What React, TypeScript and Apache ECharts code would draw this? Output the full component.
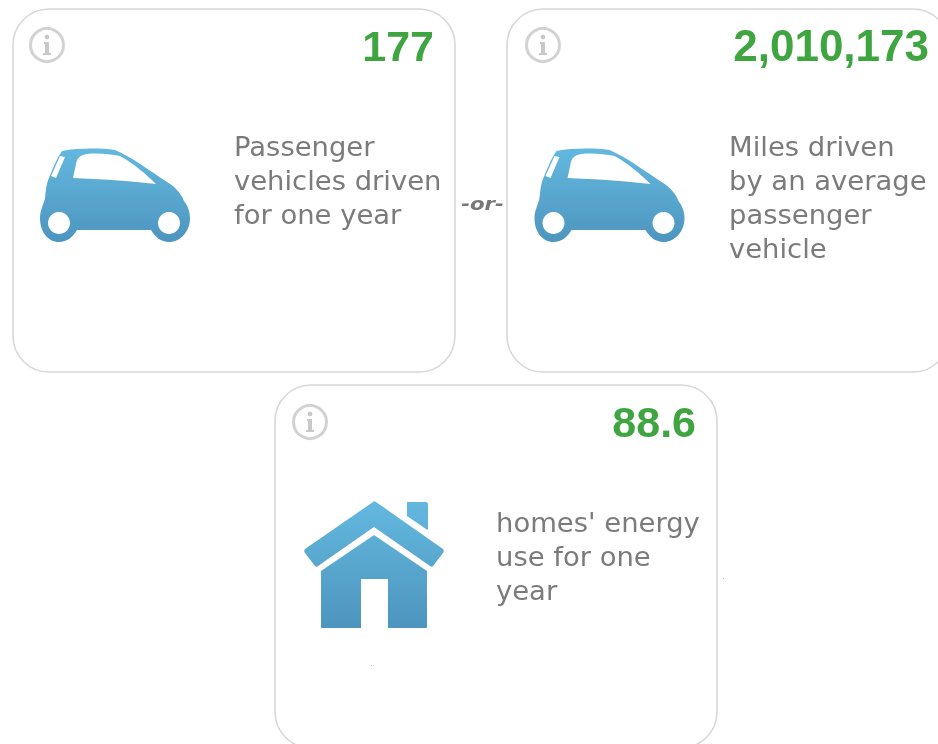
import React, { useEffect, useRef } from "react";
import * as echarts from "echarts";

const cardValues = ["177", "2,010,173", "88.6"];
const cardLabels = [
  ["Passenger", "vehicles driven", "for one year"],
  ["Miles driven", "by an average", "passenger", "vehicle"],
  ["homes' energy", "use for one", "year"],
];
const separatorLabel = "-or-";

const CAR =
  "M62 151 C78 148 100 148 115 150 C132 157 150 171 167 182 C176 187 182 195 184 201 C188 206 190 212 190 218 C190 232 180 242 169 242 C161 242 155 237 151 230 L77 230 C73 237 67 242 59 242 C48 242 40 232 40 218 C40 210 44 204 45 198 C46 188 47 182 49 178 C53 168 57 158 62 151 Z";
const WINDOW =
  "M73 178 L76 164 C77 158 80 155 87 154 C98 153 110 154 120 156 C133 163 146 174 156 184 C130 181 100 179 73 178 Z";
const STRIPE = "M60 156 L65 157 L56 178 L51 176 Z";
const HOUSE =
  "M373 502 C374 501 375 501 376 502 L443 549 C444 550 444 552 443 553 L433 566 C432 567 431 567 430 566 L374 527 L318 566 C317 567 316 567 315 566 L305 553 C304 552 304 550 305 549 Z " +
  "M407 503 C407 502 407 502 408 502 L426 502 C427 502 428 503 428 504 L428 528 C428 530 427 530 426 529 L407 516 Z " +
  "M321 571 L374 535 L427 571 L427 626 C427 627 427 628 426 628 L388 628 L388 579 L361 579 L361 628 L322 628 C321 628 321 627 321 626 Z";
const INFO_I =
  "M-3 -3 L2 -3 L2 8 L4 8 L4 10 L-4 10 L-4 8 L-2 8 L-2 -1 L-3 -1 Z";

echarts.graphic.registerShape("carBody", echarts.graphic.extendPath(CAR, {}));
echarts.graphic.registerShape("carWindow", echarts.graphic.extendPath(WINDOW, {}));
echarts.graphic.registerShape("carStripe", echarts.graphic.extendPath(STRIPE, {}));
echarts.graphic.registerShape("houseIcon", echarts.graphic.extendPath(HOUSE, {}));
echarts.graphic.registerShape("infoI", echarts.graphic.extendPath(INFO_I, {}));

const iconFill = {
  type: "linear",
  x: 0,
  y: 0,
  x2: 0,
  y2: 1,
  colorStops: [
    { offset: 0, color: "#63b8df" },
    { offset: 1, color: "#4d95be" },
  ],
};

function card(
  x: number,
  y: number,
  i: number,
  textX: number,
  textY: number,
  valueRight: number,
  valueSize: number,
  iconX: number,
  iconY: number
) {
  const els: any[] = [
    {
      type: "rect",
      shape: { x, y, width: 442, height: 363, r: 36 },
      style: { fill: "#fff", stroke: "#d8d8d8", lineWidth: 1.6 },
    },
    {
      type: "circle",
      shape: { cx: iconX, cy: iconY, r: 16.5 },
      style: { fill: "#fff", stroke: "#d2d2d2", lineWidth: 3 },
    },
    { type: "circle", shape: { cx: iconX, cy: iconY - 8, r: 2.4 }, style: { fill: "#c8c8c8" } },
    { type: "infoI", x: iconX, y: iconY, style: { fill: "#c8c8c8" } },
    {
      type: "text",
      style: {
        x: valueRight,
        y: y + 36.5,
        text: cardValues[i],
        align: "right",
        verticalAlign: "middle",
        fill: "#3fa540",
        font: `bold ${valueSize}px "Liberation Sans"`,
      },
    },
  ];
  cardLabels[i].forEach((line, k) =>
    els.push({
      type: "text",
      x: textX,
      y: textY + k * 34,
      scaleX: 1.055,
      style: {
        x: 0,
        y: 0,
        text: line,
        align: "left",
        verticalAlign: "middle",
        fill: "#7b7b7b",
        font: '26px "DejaVu Sans"',
      },
    })
  );
  return els;
}

function car(dx: number) {
  return {
    type: "group",
    x: dx,
    y: 0,
    children: [
      { type: "carBody", style: { fill: iconFill } },
      { type: "carWindow", style: { fill: "#fff" } },
      { type: "carStripe", style: { fill: "#fff" } },
      { type: "circle", shape: { cx: 59, cy: 223, r: 11 }, style: { fill: "#fff" } },
      { type: "circle", shape: { cx: 169, cy: 223, r: 11 }, style: { fill: "#fff" } },
    ],
  };
}

export default function App() {
  const ref = useRef<HTMLDivElement>(null);
  useEffect(() => {
    const chart = echarts.init(ref.current!, undefined, { renderer: "svg" });
    chart.setOption({
      animation: false,
      backgroundColor: "#fff",
      graphic: {
        elements: [
          ...card(13, 9, 0, 234, 147, 434, 43, 47, 45),
          ...card(507, 9, 1, 729, 147, 929, 44, 543, 45),
          ...card(275, 385, 2, 496, 523, 696, 43, 310, 422),
          car(0),
          car(494.5),
          { type: "houseIcon", style: { fill: iconFill } },
          { type: "rect", shape: { x: 371, y: 665, width: 1, height: 1 }, style: { fill: "#bbb" } },
          { type: "rect", shape: { x: 723, y: 578, width: 1, height: 1 }, style: { fill: "#bbb" } },
          {
            type: "text",
            x: 482.5,
            y: 204,
            scaleX: 1.25,
            style: {
              x: 0,
              y: 0,
              text: separatorLabel,
              align: "center",
              verticalAlign: "middle",
              fill: "#777",
              font: 'italic bold 17px "DejaVu Sans"',
            },
          },
        ],
      },
    });
    return () => chart.dispose();
  }, []);
  return (
    <div
      ref={ref}
      style={{ position: "fixed", left: 0, top: 0, width: 938, height: 744, filter: "blur(0.4px)" }}
    />
  );
}
